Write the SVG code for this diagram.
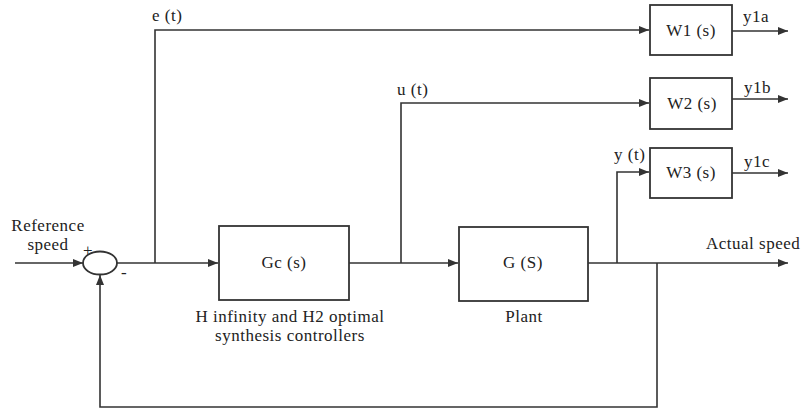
<svg xmlns="http://www.w3.org/2000/svg" width="804" height="410" viewBox="0 0 804 410">
<style>
text{font-family:"Liberation Serif","Times New Roman",serif;font-size:17px;fill:#222;letter-spacing:0.5px}
.box{fill:#fff;stroke:#333;stroke-width:1.8}
.wire{fill:none;stroke:#333;stroke-width:1.6}
.arr{marker-end:url(#ah)}
.c{text-anchor:middle}
</style>
<defs>
<marker id="ah" markerUnits="userSpaceOnUse" markerWidth="10" markerHeight="8" refX="10" refY="4" orient="auto">
<path d="M0,0 L10,4 L0,8 Z" fill="#333"/>
</marker>
</defs>
<rect width="804" height="410" fill="#fff"/>
<g id="connectors">
<path class="wire arr" d="M15,263 H83"/>
<path class="wire arr" d="M117,263 H218"/>
<path class="wire arr" d="M155,263 V30 H649"/>
<path class="wire arr" d="M349,263 H458"/>
<path class="wire arr" d="M401,263 V103 H649"/>
<path class="wire arr" d="M588,263 H788"/>
<path class="wire arr" d="M617,263 V172 H649"/>
<path class="wire arr" d="M657,263 V407 H100 V275"/>
<path class="wire arr" d="M732,31 H788"/>
<path class="wire arr" d="M732,99 H788"/>
<path class="wire arr" d="M732,173 H788"/>
</g>
<g id="sum">
<ellipse cx="100" cy="263" rx="17" ry="11.5" fill="#fff" stroke="#333" stroke-width="1.8"/>
<text x="88" y="256" class="c">+</text>
<text x="124" y="278" class="c">-</text>
</g>
<g id="ref-label">
<text x="48" y="231" class="c">Reference</text>
<text x="48" y="250" class="c">speed</text>
</g>
<g id="Gc">
<rect class="box" x="219" y="226" width="130" height="74"/>
<text x="284" y="268" class="c">Gc (s)</text>
<text x="290" y="322" class="c">H infinity and H2 optimal</text>
<text x="290" y="341" class="c">synthesis controllers</text>
</g>
<g id="G">
<rect class="box" x="459" y="227" width="129" height="74"/>
<text x="523" y="268" class="c">G (S)</text>
<text x="524" y="322" class="c">Plant</text>
</g>
<g id="W1">
<rect class="box" x="650" y="5" width="82" height="50"/>
<text x="691" y="36" class="c">W1 (s)</text>
</g>
<g id="W2">
<rect class="box" x="650" y="78" width="82" height="51"/>
<text x="692" y="109" class="c">W2 (s)</text>
</g>
<g id="W3">
<rect class="box" x="650" y="148" width="82" height="50"/>
<text x="691" y="178" class="c">W3 (s)</text>
</g>
<g id="labels">
<text x="152" y="21">e (t)</text>
<text x="397" y="95">u (t)</text>
<text x="614" y="160">y (t)</text>
<text x="743" y="22">y1a</text>
<text x="744" y="93">y1b</text>
<text x="744" y="167">y1c</text>
<text x="706" y="249">Actual speed</text>
</g>
</svg>
